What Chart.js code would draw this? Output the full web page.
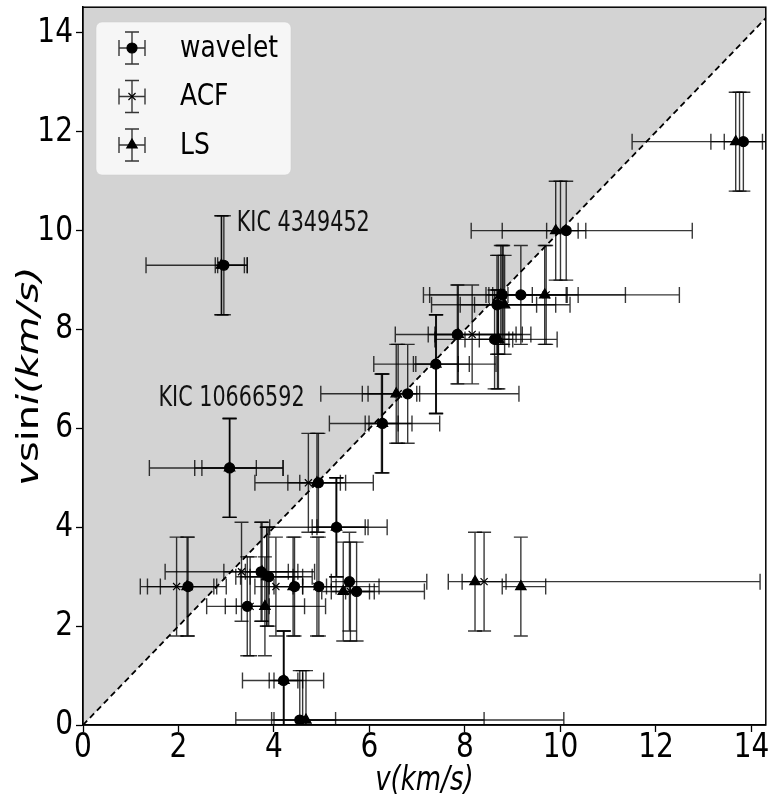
<!DOCTYPE html>
<html>
<head>
<meta charset="utf-8">
<script src="https://cdn.jsdelivr.net/npm/chart.js@4.4.1/dist/chart.umd.min.js"></script>
<style>
  html, body { margin: 0; padding: 0; background: #fff; }
  #wrap { width: 773px; height: 805px; }
</style>
</head>
<body>
<div id="wrap"><canvas id="chart"></canvas></div>
<script>
'use strict';

// one entry per star, vsini (y) with its error
const vsini = [11.8, 10.0, 9.3, 8.7, 8.7, 8.5, 7.9, 7.8, 7.3, 6.7, 6.1, 4.9, 5.2, 4.0, 3.1, 3.0, 2.8, 2.8, 2.8, 2.9, 2.7, 2.4, 0.9, 0.1];
const vsiniErr = [1.0, 1.0, 1.0, 1.0, 1.0, 1.0, 1.0, 1.0, 1.0, 1.0, 1.0, 1.0, 1.0, 1.0, 1.0, 1.0, 1.0, 1.0, 1.0, 1.0, 1.0, 1.0, 1.0, 1.0];

// v from wavelet periods, with lower / upper bounds
const waveletV =   [13.83, 10.12, 2.95, 8.78, 9.17, 8.67, 7.84, 8.62, 7.39, 6.80, 6.27, 4.93, 3.07, 5.31, 3.73, 3.89, 2.20, 4.43, 4.94, 5.58, 5.73, 3.44, 4.20, 4.54];
const waveletVLo = [13.43, 9.71, 2.82, 8.44, 8.58, 7.30, 6.54, 7.37, 6.09, 5.85, 5.91, 4.29, 2.49, 3.91, 2.95, 3.30, 1.62, 3.90, 4.60, 5.20, 5.50, 2.98, 3.90, 3.95];
const waveletVHi = [14.23, 10.53, 3.38, 9.41, 10.12, 9.50, 9.07, 9.00, 8.65, 9.13, 6.89, 6.08, 4.19, 5.91, 4.85, 4.60, 2.80, 5.10, 6.20, 7.20, 6.10, 4.64, 4.60, 5.29];

// v from ACF periods
const acfV =   [13.75, 10.00, 2.90, 8.80, 9.70, 8.70, 8.15, 8.68, 7.40, 6.60, 6.25, 4.72, 3.07, 5.30, 3.32, 3.85, 1.96, 4.04, 4.90, 8.40, 5.60, 3.50, 4.20, 4.60];
const acfVLo = [13.15, 8.78, 2.77, 7.26, 8.90, 7.90, 7.23, 8.30, 6.92, 5.97, 5.16, 3.60, 1.39, 4.80, 1.72, 3.20, 1.20, 3.60, 4.40, 7.94, 5.20, 2.59, 3.34, 3.20];
const acfVHi = [14.35, 10.37, 3.44, 10.14, 11.36, 9.90, 9.38, 9.93, 7.86, 7.05, 7.47, 5.39, 3.63, 6.37, 4.30, 4.80, 2.74, 4.60, 5.60, 8.86, 6.00, 3.90, 5.04, 8.40];

// v from LS periods
const lsV =   [13.67, 9.90, 2.90, 8.75, 9.67, 8.83, 7.86, 8.70, 7.39, 6.56, 6.27, 4.90, 3.07, 5.31, 3.75, 3.85, 2.18, 4.40, 9.17, 8.21, 5.45, 3.81, 4.21, 4.67];
const lsVLo = [11.50, 8.13, 1.32, 7.13, 8.50, 8.20, 7.37, 8.00, 6.97, 4.98, 5.99, 4.54, 2.34, 4.90, 3.40, 3.50, 1.35, 4.00, 8.78, 7.65, 5.00, 3.21, 4.00, 4.00];
const lsVHi = [15.90, 12.76, 3.44, 10.37, 12.49, 10.20, 9.20, 8.92, 8.09, 6.99, 6.60, 5.50, 4.19, 5.97, 4.50, 4.40, 3.00, 5.30, 9.69, 14.18, 7.15, 5.08, 4.50, 10.07];

const seriesNames = ['wavelet', 'ACF', 'LS'];
const tickValues = [0, 2, 4, 6, 8, 10, 12, 14];

// labelled stars: name, v, vsini where the label starts
const noteLabels = ['KIC 4349452', 'KIC 10666592'];
const noteX = [3.22, 1.58];
const noteY = [10.15, 6.6];

const FONT = '"DejaVu Sans", sans-serif';

function points(xs) {
  return xs.map((v, i) => ({x: v, y: vsini[i]}));
}

const series = [
  {name: seriesNames[0], v: waveletV, lo: waveletVLo, hi: waveletVHi, style: 'circle', radius: 5},
  {name: seriesNames[1], v: acfV, lo: acfVLo, hi: acfVHi, style: 'crossRot', radius: 5},
  {name: seriesNames[2], v: lsV, lo: lsVLo, hi: lsVHi, style: 'triangle', radius: 6}
];

const barColor = 'rgba(0,0,0,0.78)';
const capW = 7, capH = 8;

function drawBars(ctx, x1, x2, y0, xm, y1, y2) {
  ctx.beginPath();
  ctx.moveTo(x1, y0); ctx.lineTo(x2, y0);
  ctx.moveTo(x1, y0 - capH); ctx.lineTo(x1, y0 + capH);
  ctx.moveTo(x2, y0 - capH); ctx.lineTo(x2, y0 + capH);
  ctx.moveTo(xm, y1); ctx.lineTo(xm, y2);
  ctx.moveTo(xm - capW, y1); ctx.lineTo(xm + capW, y1);
  ctx.moveTo(xm - capW, y2); ctx.lineTo(xm + capW, y2);
  ctx.stroke();
}

// text drawn a bit taller than wide, like the picture
function tallText(ctx, txt, x, y, size, sy, style, align) {
  ctx.save();
  ctx.translate(x, y);
  ctx.scale(1, sy);
  ctx.font = (style || '') + size + 'px ' + FONT;
  ctx.textAlign = align || 'left';
  ctx.textBaseline = 'middle';
  ctx.fillText(txt, 0, 0);
  ctx.restore();
}

const errorBarPlugin = {
  id: 'errorBars',
  beforeDatasetDraw(chart, args) {
    const s = chart.data.datasets[args.index].errSeries;
    if (!s) return;
    const ctx = chart.ctx, xs = chart.scales.x, ys = chart.scales.y, a = chart.chartArea;
    ctx.save();
    ctx.beginPath();
    ctx.rect(a.left, a.top, a.right - a.left, a.bottom - a.top);
    ctx.clip();
    ctx.strokeStyle = barColor;
    ctx.lineWidth = 1.4;
    for (let i = 0; i < s.v.length; i++) {
      drawBars(ctx,
        xs.getPixelForValue(s.lo[i]), xs.getPixelForValue(s.hi[i]),
        ys.getPixelForValue(vsini[i]), xs.getPixelForValue(s.v[i]),
        ys.getPixelForValue(vsini[i] + vsiniErr[i]), ys.getPixelForValue(vsini[i] - vsiniErr[i]));
    }
    ctx.restore();
  },
  afterDraw(chart) {
    const ctx = chart.ctx, a = chart.chartArea, xs = chart.scales.x, ys = chart.scales.y;
    ctx.save();
    // frame
    ctx.strokeStyle = '#000';
    ctx.lineWidth = 1.5;
    ctx.strokeRect(a.left, a.top, a.right - a.left, a.bottom - a.top);

    // tick labels
    ctx.fillStyle = '#000';
    tickValues.forEach(v => {
      tallText(ctx, String(v), xs.getPixelForValue(v), a.bottom + 23, 28, 1.22, '', 'center');
      tallText(ctx, String(v), a.left - 10, ys.getPixelForValue(v), 28, 1.22, '', 'right');
    });

    // labels on two stars
    ctx.fillStyle = '#111';
    ctx.textBaseline = 'middle';
    ctx.textAlign = 'left';
    for (let i = 0; i < noteLabels.length; i++) {
      const px = xs.getPixelForValue(noteX[i]), py = ys.getPixelForValue(noteY[i]);
      ctx.save();
      ctx.translate(px, py);
      ctx.scale(0.74, 1);
      ctx.font = '28px ' + FONT;
      ctx.fillText(noteLabels[i], 0, 0);
      ctx.restore();
    }

    // legend
    const lx = 96, ly = 22, lw = 195, lh = 153;
    ctx.beginPath();
    ctx.roundRect(lx, ly, lw, lh, 6);
    ctx.fillStyle = 'rgba(255,255,255,0.8)';
    ctx.fill();
    ctx.strokeStyle = 'rgba(204,204,204,0.5)';
    ctx.lineWidth = 1;
    ctx.stroke();
    series.forEach((s, k) => {
      const cy = ly + 26 + k * 48.5, cx = lx + 36;
      ctx.strokeStyle = barColor;
      ctx.lineWidth = 1.4;
      drawBars(ctx, cx - 13, cx + 13, cy, cx, cy - 16, cy + 16);
      ctx.fillStyle = '#000';
      ctx.strokeStyle = '#000';
      ctx.lineWidth = 1.2;
      Chart.helpers.drawPoint(ctx, {pointStyle: s.style, radius: s.radius, rotation: 0, borderWidth: 1.2}, cx, cy);
      ctx.fillStyle = '#000';
      tallText(ctx, s.name, lx + 84, cy + 1, 25, 1.2, '', 'left');
    });

    // axis titles
    ctx.fillStyle = '#000';
    tallText(ctx, 'v(km/s)', (a.left + a.right) / 2, 781, 26, 1.3, 'italic ', 'center');

    const parts = [['v', 'italic '], ['sin', ''], ['i(km/s)', 'italic ']];
    const size = 30, stretch = 1.33;
    let total = 0;
    parts.forEach(p => { ctx.font = p[1] + size + 'px ' + FONT; total += ctx.measureText(p[0]).width; });
    ctx.translate(30, (a.top + a.bottom) / 2 + 10);
    ctx.rotate(-Math.PI / 2);
    ctx.scale(stretch, 1);
    ctx.textAlign = 'left';
    ctx.textBaseline = 'middle';
    let off = -total / 2;
    parts.forEach(p => {
      ctx.font = p[1] + size + 'px ' + FONT;
      ctx.fillText(p[0], off, 0);
      off += ctx.measureText(p[0]).width;
    });
    ctx.restore();
  }
};

const datasets = series.map((s, k) => ({
  label: s.name,
  data: points(s.v),
  errSeries: s,
  pointStyle: s.style,
  pointRadius: s.radius,
  pointHoverRadius: s.radius,
  pointBorderWidth: 1.2,
  backgroundColor: '#000',
  borderColor: '#000',
  order: 3 - k
}));

// y = x line with the region above it shaded
datasets.push({
  label: 'y=x',
  data: [{x: 0, y: 0}, {x: 16, y: 16}],
  showLine: true,
  pointRadius: 0,
  borderColor: '#000',
  borderWidth: 1.8,
  borderDash: [6, 4],
  fill: 'end',
  backgroundColor: '#d3d3d3',
  order: 10
});

function noPad(scale) {
  scale.paddingTop = 0;
  scale.paddingBottom = 0;
  scale.paddingLeft = 0;
  scale.paddingRight = 0;
}

new Chart(document.getElementById('chart'), {
  type: 'scatter',
  data: {datasets: datasets},
  options: {
    responsive: true,
    maintainAspectRatio: false,
    animation: false,
    layout: {padding: {top: 5, right: 2, left: 0, bottom: 0}},
    plugins: {legend: {display: false}, tooltip: {enabled: false}},
    scales: {
      x: {
        type: 'linear', min: 0, max: 14.3,
        afterFit(scale) { scale.height = 80; noPad(scale); },
        afterBuildTicks(scale) { scale.ticks = tickValues.map(v => ({value: v})); },
        ticks: {display: false},
        grid: {drawOnChartArea: false, drawTicks: true, tickLength: 7, tickColor: '#000', tickWidth: 1.3},
        border: {display: true, color: '#000', width: 1.5}
      },
      y: {
        type: 'linear', min: 0, max: 14.52,
        afterFit(scale) { scale.width = 83; noPad(scale); },
        afterBuildTicks(scale) { scale.ticks = tickValues.map(v => ({value: v})); },
        ticks: {display: false},
        grid: {drawOnChartArea: false, drawTicks: true, tickLength: 7, tickColor: '#000', tickWidth: 1.3},
        border: {display: true, color: '#000', width: 1.5}
      }
    }
  },
  plugins: [errorBarPlugin]
});
</script>
</body>
</html>
